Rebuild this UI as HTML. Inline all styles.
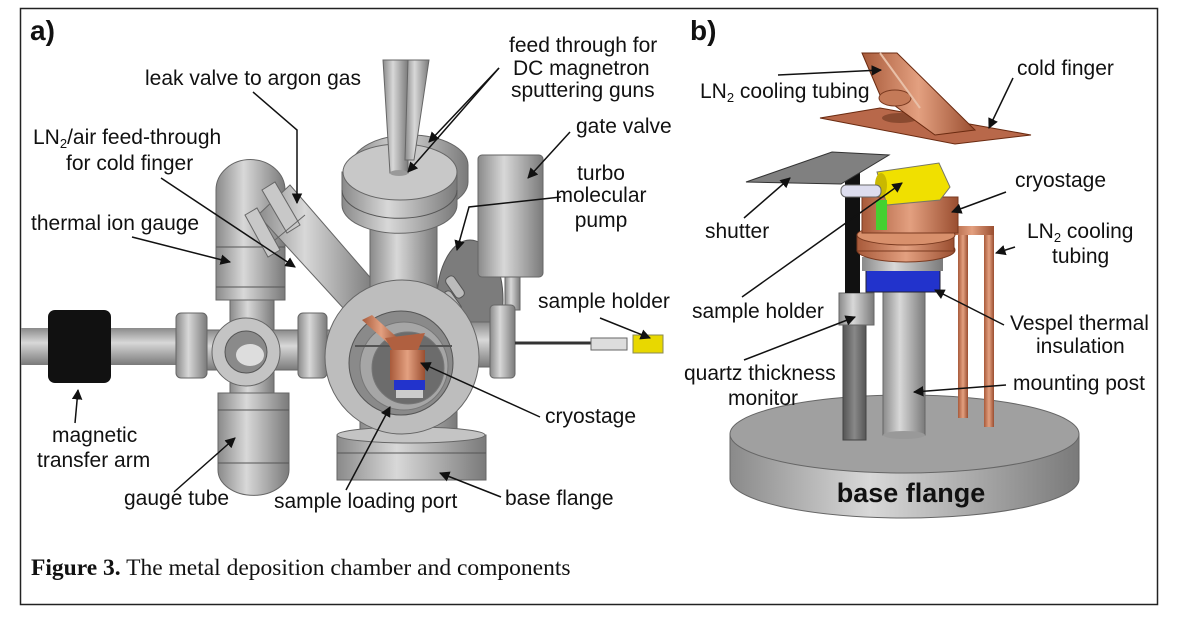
<!DOCTYPE html>
<html><head><style>
html,body{margin:0;padding:0;background:#fff;}
svg{display:block;}
text{font-family:"Liberation Sans",Arial,sans-serif;font-size:21px;fill:#111;}
.s{font-size:13px;}
</style></head><body>
<svg width="1178" height="618" viewBox="0 0 1178 618" xmlns="http://www.w3.org/2000/svg">
<defs>
<linearGradient id="gv" x1="0" x2="1" y1="0" y2="0"><stop offset="0" stop-color="#8a8a8a"/><stop offset="0.4" stop-color="#d8d8d8"/><stop offset="1" stop-color="#7a7a7a"/></linearGradient>
<linearGradient id="gh" x1="0" x2="0" y1="0" y2="1"><stop offset="0" stop-color="#8a8a8a"/><stop offset="0.4" stop-color="#d8d8d8"/><stop offset="1" stop-color="#7a7a7a"/></linearGradient>
<linearGradient id="cu" x1="0" x2="1"><stop offset="0" stop-color="#a85a3a"/><stop offset="0.5" stop-color="#e3a080"/><stop offset="1" stop-color="#9a4e30"/></linearGradient>
<linearGradient id="dk" x1="0" x2="1"><stop offset="0" stop-color="#555"/><stop offset="0.5" stop-color="#888"/><stop offset="1" stop-color="#555"/></linearGradient>
<marker id="ar" viewBox="0 0 10 10" refX="9" refY="5" markerWidth="7" markerHeight="7" orient="auto"><path d="M0,0L10,5L0,10z" fill="#111"/></marker>
</defs>
<rect x="20.5" y="8.5" width="1137" height="596" fill="#fff" stroke="#222" stroke-width="1.5"/>

<!-- ===== (a) ===== -->
<text x="30" y="40" style="font-size:28px;font-weight:bold">a)</text>

<rect x="21" y="328" width="157" height="37" fill="url(#gh)"/>
<rect x="48" y="310" width="63" height="73" rx="7" fill="#111"/>

<rect x="230" y="280" width="44" height="120" fill="url(#gv)" stroke="#666"/>
<path d="M216,190 A34,30 0 0 1 285,190 L285,300 L216,300 Z" fill="url(#gv)" stroke="#666"/>
<line x1="216" y1="247" x2="285" y2="247" stroke="#555"/>
<line x1="216" y1="287" x2="285" y2="287" stroke="#555"/>
<path d="M218,393 L289,393 L289,470 A35,25 0 0 1 218,470 Z" fill="url(#gv)" stroke="#666"/>
<line x1="218" y1="410" x2="289" y2="410" stroke="#555"/>
<line x1="218" y1="463" x2="289" y2="463" stroke="#555"/>

<rect x="176" y="330" width="165" height="40" fill="url(#gh)" stroke="#666"/>
<rect x="176" y="313" width="31" height="65" rx="5" fill="url(#gv)" stroke="#666"/>
<rect x="298" y="313" width="29" height="65" rx="5" fill="url(#gv)" stroke="#666"/>
<circle cx="246" cy="352" r="34" fill="#c4c4c4" stroke="#666"/>
<circle cx="246" cy="352" r="21" fill="#8a8a8a" stroke="#555"/>
<ellipse cx="250" cy="355" rx="14" ry="11" fill="#ddd"/>

<polygon points="258,215 290,185 375,283 345,310" fill="url(#gv)" stroke="#666"/>
<polygon points="262,190 275,182 300,225 287,233" fill="#c8c8c8" stroke="#666"/>
<polygon points="245,215 257,208 280,250 268,257" fill="#c8c8c8" stroke="#666"/>
<line x1="275" y1="240" x2="305" y2="215" stroke="#666"/>

<!-- turbo disk -->
<ellipse cx="470" cy="300" rx="33" ry="60" fill="#7c7c7c" stroke="#555"/>
<rect x="450" y="275" width="10" height="24" rx="4" fill="#bbb" stroke="#555" transform="rotate(-35 455 287)"/>
<rect x="447" y="290" width="10" height="24" rx="4" fill="#bbb" stroke="#555" transform="rotate(-35 452 302)"/>

<!-- neck -->
<rect x="370" y="205" width="67" height="110" fill="url(#gv)" stroke="#666"/>
<!-- back ring -->
<path d="M352,165 A58,30 0 0 1 468,165 L468,182 A58,30 0 0 1 352,182 Z" fill="url(#gv)" stroke="#666"/>
<!-- top flange disks -->
<path d="M342,172 L342,205 A57,28 0 0 0 457,205 L457,172 Z" fill="url(#gv)" stroke="#666"/>
<path d="M342,190 A57,28 0 0 0 457,190" fill="none" stroke="#555"/>
<ellipse cx="400" cy="172" rx="57" ry="28" fill="#c8c8c8" stroke="#666"/>
<!-- top tubes -->
<polygon points="383,60 408,60 408,173 390,173" fill="url(#gv)" stroke="#666"/>
<polygon points="408,60 429,60 414,160 405,160" fill="url(#gv)" stroke="#666"/>
<ellipse cx="399" cy="173" rx="9" ry="3" fill="#999"/>

<!-- gate valve -->
<rect x="505" y="270" width="15" height="40" fill="url(#gv)" stroke="#666"/>
<rect x="478" y="155" width="65" height="122" rx="4" fill="url(#gv)" stroke="#666"/>

<rect x="465" y="322" width="30" height="45" fill="url(#gh)" stroke="#666"/>
<rect x="490" y="305" width="25" height="73" rx="4" fill="url(#gv)" stroke="#666"/>

<rect x="360" y="410" width="97" height="30" fill="url(#gv)" stroke="#666"/>
<rect x="337" y="435" width="149" height="45" fill="url(#gv)" stroke="#666"/>
<line x1="337" y1="453" x2="486" y2="453" stroke="#555"/>
<ellipse cx="411" cy="435" rx="74" ry="8" fill="#c4c4c4" stroke="#666"/>

<circle cx="402" cy="357" r="77" fill="#bdbdbd" stroke="#666"/>
<circle cx="401" cy="363" r="52" fill="#8a8a8a" stroke="#555"/>
<circle cx="404" cy="366" r="44" fill="#a6a6a6" stroke="#777"/>
<circle cx="408" cy="368" r="36" fill="#6c6c6c" stroke="#777"/>
<line x1="355" y1="346" x2="452" y2="346" stroke="#555" stroke-width="2"/>
<polygon points="362,320 372,315 400,340 390,345" fill="url(#cu)"/>
<polygon points="385,338 425,333 418,350 392,350" fill="#b06040"/>
<rect x="390" y="350" width="35" height="30" fill="url(#cu)"/>
<rect x="394" y="380" width="31" height="10" fill="#2233cc"/>
<rect x="396" y="390" width="27" height="8" fill="#ccc"/>

<line x1="515" y1="343" x2="592" y2="343" stroke="#333" stroke-width="3"/>
<rect x="591" y="338" width="36" height="12" fill="#ddd" stroke="#666"/>
<rect x="633" y="335" width="30" height="18" fill="#e8d800" stroke="#885"/>

<text x="145" y="85">leak valve to argon gas</text>
<polyline points="253,92 297,130 297,203" fill="none" stroke="#111" stroke-width="1.5" marker-end="url(#ar)"/>
<text x="33" y="144">LN<tspan class="s" dy="4">2</tspan><tspan dy="-4">/air feed-through</tspan></text>
<text x="66" y="170">for cold finger</text>
<line x1="161" y1="178" x2="295" y2="267" stroke="#111" stroke-width="1.5" marker-end="url(#ar)"/>
<text x="31" y="230">thermal ion gauge</text>
<line x1="132" y1="237" x2="230" y2="262" stroke="#111" stroke-width="1.5" marker-end="url(#ar)"/>
<text x="509" y="52">feed through for</text>
<text x="513" y="75">DC magnetron</text>
<text x="511" y="97">sputtering guns</text>
<line x1="499" y1="68" x2="408" y2="172" stroke="#111" stroke-width="1.5" marker-end="url(#ar)"/>
<line x1="499" y1="68" x2="429" y2="142" stroke="#111" stroke-width="1.5" marker-end="url(#ar)"/>
<text x="576" y="133">gate valve</text>
<line x1="570" y1="132" x2="528" y2="178" stroke="#111" stroke-width="1.5" marker-end="url(#ar)"/>
<text x="601" y="180" text-anchor="middle">turbo</text>
<text x="601" y="202" text-anchor="middle">molecular</text>
<text x="601" y="227" text-anchor="middle">pump</text>
<polyline points="561,197 469,207 457,250" fill="none" stroke="#111" stroke-width="1.5" marker-end="url(#ar)"/>
<text x="538" y="308">sample holder</text>
<line x1="600" y1="318" x2="650" y2="338" stroke="#111" stroke-width="1.5" marker-end="url(#ar)"/>
<text x="52" y="442">magnetic</text>
<text x="37" y="467">transfer arm</text>
<line x1="75" y1="423" x2="78" y2="390" stroke="#111" stroke-width="1.5" marker-end="url(#ar)"/>
<text x="545" y="423">cryostage</text>
<line x1="540" y1="417" x2="421" y2="363" stroke="#111" stroke-width="1.5" marker-end="url(#ar)"/>
<text x="124" y="505">gauge tube</text>
<line x1="174" y1="492" x2="235" y2="438" stroke="#111" stroke-width="1.5" marker-end="url(#ar)"/>
<text x="274" y="508">sample loading port</text>
<line x1="346" y1="490" x2="390" y2="407" stroke="#111" stroke-width="1.5" marker-end="url(#ar)"/>
<text x="505" y="505">base flange</text>
<line x1="501" y1="497" x2="440" y2="473" stroke="#111" stroke-width="1.5" marker-end="url(#ar)"/>

<!-- ===== (b) ===== -->
<text x="690" y="40" style="font-size:28px;font-weight:bold">b)</text>

<path d="M730,434 L730,479 A174.5,39 0 0 0 1079,479 L1079,434 Z" fill="url(#gv)" stroke="#666"/>
<ellipse cx="904.5" cy="434" rx="174.5" ry="39" fill="#a0a0a0" stroke="#666"/>
<text x="911" y="502" text-anchor="middle" style="font-size:27px;font-weight:bold">base flange</text>

<rect x="843" y="318" width="23" height="122" fill="url(#dk)" stroke="#444"/>
<rect x="839" y="293" width="35" height="32" fill="url(#gv)" stroke="#666"/>
<rect x="845" y="167" width="15" height="126" fill="#111"/>

<rect x="883" y="290" width="42" height="145" fill="url(#gv)" stroke="#666"/>
<ellipse cx="904" cy="435" rx="21" ry="4" fill="#999"/>
<rect x="866" y="270" width="74" height="22" fill="#2233cc" stroke="#223"/>
<rect x="862" y="257" width="81" height="14" fill="url(#gv)"/>

<rect x="958" y="232" width="10" height="186" fill="url(#cu)"/>
<rect x="984" y="230" width="10" height="197" fill="url(#cu)"/>
<rect x="950" y="226" width="44" height="9" fill="url(#cu)"/>

<ellipse cx="906" cy="250" rx="49" ry="12" fill="url(#cu)" stroke="#7a3a20"/>
<rect x="857" y="235" width="97" height="16" fill="url(#cu)" stroke="#7a3a20"/>
<ellipse cx="906" cy="235" rx="49" ry="10" fill="#d8906c" stroke="#7a3a20"/>
<rect x="862" y="197" width="96" height="36" fill="url(#cu)" stroke="#7a3a20"/>
<polygon points="877,172 939,163 950,187 940,200 887,205" fill="#f0e000" stroke="#776"/>
<ellipse cx="881" cy="185" rx="6" ry="12" fill="#c9b800"/>
<rect x="876" y="200" width="11" height="30" fill="#44d030"/>
<rect x="841" y="185" width="40" height="12" rx="5" fill="#dde" stroke="#666"/>

<polygon points="746,182 832,152 889,155 841,184" fill="#808080" stroke="#333"/>

<polygon points="820,118 880,108 1031,135 955,144" fill="#b8684a" stroke="#6a2a10"/>
<ellipse cx="900" cy="118" rx="18" ry="5" fill="#8a4a30"/>
<polygon points="862,53 897,53 975,130 935,135 880,95" fill="url(#cu)" stroke="#6a2a10"/>
<ellipse cx="895" cy="98" rx="16" ry="8" fill="#c47a58" stroke="#7a3a20"/>
<line x1="880" y1="53" x2="920" y2="108" stroke="#e8c0a8" stroke-width="2"/>

<text x="1017" y="75">cold finger</text>
<line x1="1013" y1="78" x2="989" y2="128" stroke="#111" stroke-width="1.5" marker-end="url(#ar)"/>
<text x="700" y="98">LN<tspan class="s" dy="4">2</tspan><tspan dy="-4"> cooling tubing</tspan></text>
<line x1="778" y1="75" x2="881" y2="70" stroke="#111" stroke-width="1.5" marker-end="url(#ar)"/>
<text x="1015" y="187">cryostage</text>
<line x1="1006" y1="192" x2="952" y2="212" stroke="#111" stroke-width="1.5" marker-end="url(#ar)"/>
<text x="705" y="238">shutter</text>
<line x1="744" y1="218" x2="790" y2="178" stroke="#111" stroke-width="1.5" marker-end="url(#ar)"/>
<text x="1027" y="238">LN<tspan class="s" dy="4">2</tspan><tspan dy="-4"> cooling</tspan></text>
<text x="1052" y="263">tubing</text>
<line x1="1015" y1="247" x2="996" y2="253" stroke="#111" stroke-width="1.5" marker-end="url(#ar)"/>
<text x="692" y="318">sample holder</text>
<line x1="742" y1="297" x2="902" y2="183" stroke="#111" stroke-width="1.5" marker-end="url(#ar)"/>
<text x="1010" y="330">Vespel thermal</text>
<text x="1036" y="353">insulation</text>
<line x1="1004" y1="325" x2="935" y2="290" stroke="#111" stroke-width="1.5" marker-end="url(#ar)"/>
<text x="684" y="380">quartz thickness</text>
<text x="728" y="405">monitor</text>
<line x1="744" y1="360" x2="855" y2="317" stroke="#111" stroke-width="1.5" marker-end="url(#ar)"/>
<text x="1013" y="390">mounting post</text>
<line x1="1006" y1="385" x2="914" y2="392" stroke="#111" stroke-width="1.5" marker-end="url(#ar)"/>

<text x="31" y="575" style="font-family:'Liberation Serif',serif;font-size:23.5px"><tspan style="font-weight:bold">Figure 3.</tspan>  The metal deposition chamber and components</text>
</svg>
</body></html>
